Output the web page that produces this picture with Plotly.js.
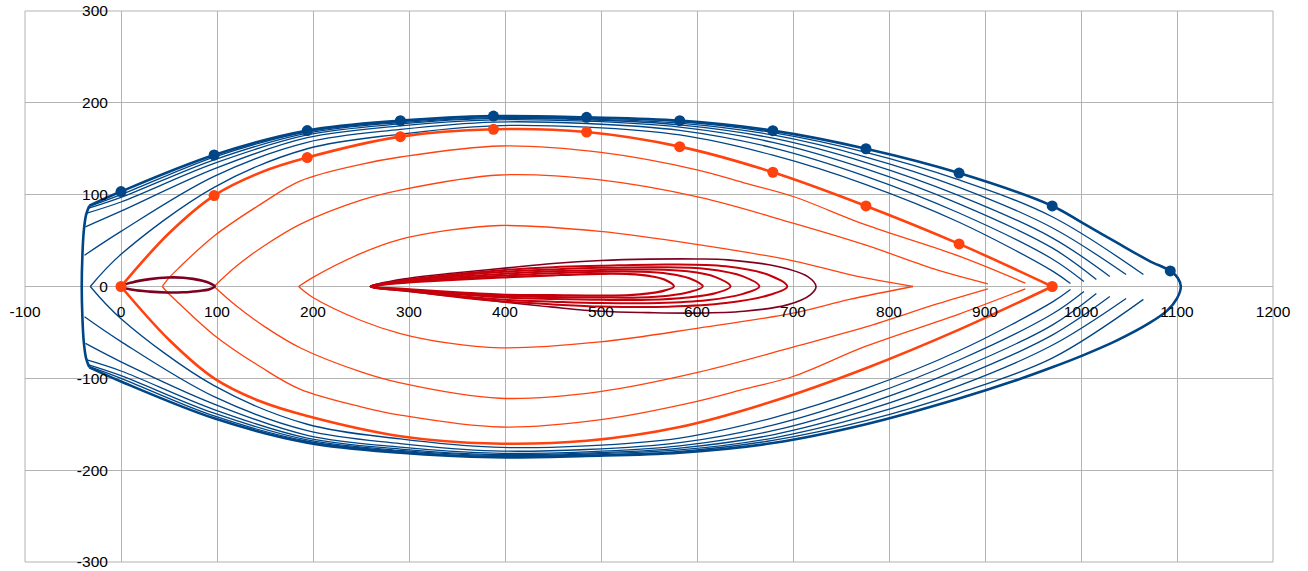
<!DOCTYPE html>
<html>
<head>
<meta charset="utf-8">
<script src="https://cdn.plot.ly/plotly-3.0.1.min.js"></script>
<style>html,body{margin:0;padding:0;background:#fff;}#chart{width:1308px;height:571px;}</style>
</head>
<body>
<div id="chart"></div>
<script>
// ---------- data ----------
// stations (x) used by the blue waterlines
const stations = [0, 97, 194, 291, 388, 485, 582, 679, 776, 873, 970];

// blue inner waterlines: start x (left), end x (right)
const blueStartX = [-32, -38, -37, -35.5, -34.5, -33.5];
const blueEndX   = [989, 1003, 1016, 1030, 1047, 1065];
// y values: [start, stations..., end]
const b1Up = [0, 35, 108, 150, 166, 175, 173.5, 165, 143, 111, 70, 17, 3.3];
const b1Lo = [0, -35, -108, -150, -166, -175, -173.5, -165, -143, -111, -70, -17, -3.3];
const b2Up = [34, 60, 120, 157, 171, 179, 177.5, 170, 151, 120, 80, 30, 5.4];
const b2Lo = [-33, -60, -120, -157, -171, -179, -177.5, -170, -151, -120, -80, -30, -5.4];
const b3Up = [65, 82, 128, 162, 175, 181.5, 180, 173.5, 157, 128, 90, 42, 7.6];
const b3Lo = [-62, -82, -128, -162, -175, -181.5, -180, -173.5, -157, -128, -90, -42, -7.6];
const b4Up = [80, 92, 134, 165, 177, 183, 181.5, 176, 161.5, 135, 99, 53, 11];
const b4Lo = [-80, -92, -134, -165, -177, -183, -181.5, -176, -161.5, -135, -99, -53, -11];
const b5Up = [85, 97, 138, 167, 178.5, 184, 182.5, 178, 165, 141, 108, 64, 13];
const b5Lo = [-85, -97, -138, -167, -178.5, -184, -182.5, -178, -165, -141, -108, -64, -13];
const b6Up = [87, 100, 141, 168.5, 179.5, 185, 183.5, 179.5, 167.5, 146, 116, 76, 13];
const b6Lo = [-87, -100, -141, -168.5, -179.5, -185, -183.5, -179.5, -167.5, -146, -116, -78, -14];

// outer hull contour (blue, thick)
const hullUpX = [-33, 0, 97, 194, 291, 388, 485, 582, 679, 776, 873, 970, 1002, 1037, 1071, 1093, 1101, 1104];
const hullUp  = [88, 103.4, 143.2, 169.8, 180.6, 185.6, 184.2, 180.6, 169.7, 150, 123.5, 87.7, 69, 48, 28, 17, 9, 0];
const hullLoX = [1104, 1100, 1090, 1071, 1037, 1002, 970, 930, 873, 776, 679, 582, 485, 388, 291, 194, 97, 0, -33];
const hullLo  = [0, -13, -26, -40, -59, -75, -88, -103, -122, -150, -170.5, -181, -184.5, -186, -181, -170, -143.5, -103.4, -88];
const sternX = [-33, -36.4, -38.8, -40.2, -40.9, -40.2, -38.8, -36.4, -33];
const sternY = [88, 78, 60, 34, 0, -34, -60, -78, -88];
const hullMarkX = [0, 97, 194, 291, 388, 485, 582, 679, 776, 873, 970, 1093];
const hullMarkY = [103.4, 143.2, 169.8, 180.6, 185.6, 184.2, 180.6, 169.7, 150, 123.5, 87.7, 17];

// orange thick line (markers only on the upper half)
const o1MarkX = [0, 97, 194, 291, 388, 485, 582, 679, 776, 873, 970];
const o1MarkY = [0, 99, 140.4, 163.2, 171.2, 168.2, 152.3, 124.4, 87.7, 46.4, 0];
const o1X  = [0, 50, 97, 145, 194, 291, 388, 485, 582, 679, 776, 873, 970];
const o1Up = [0, 58, 99, 124, 140.4, 163.2, 171.2, 168.2, 152.3, 124.4, 87.7, 46.4, 0];
const o1Lo = [0, -58, -100, -125, -141, -163, -171, -168, -153, -125, -89, -47, 0];
// orange thin lines
const o2X  = [43, 48, 60, 97, 146, 187, 250, 291, 395, 500, 600, 652, 700, 776, 873, 942];
const o2Up = [0, 7, 20, 55, 90, 115, 133, 141, 153, 146, 127, 112, 98, 67, 33, 3.6];
const o2Lo = [0, -6, -18, -53, -88, -112, -131, -140, -153, -145, -125, -111, -98, -65, -30, -2.5];
const o3X  = [97, 120, 150, 187, 250, 291, 395, 499, 603, 700, 776, 850, 903];
const o3Up = [0, 22, 45, 68, 94, 105, 121.4, 116, 97, 69, 45, 18, 2.9];
const o3Lo = [0, -21, -44, -67, -93, -105, -121.7, -114.4, -93, -66, -44, -19, -2.5];
const o4X  = [185, 200, 250, 290, 340, 395, 499, 603, 700, 759, 825];
const o4Up = [0, 10, 36, 51, 61, 66.4, 60, 45.3, 28, 13, 0];
const o4Lo = [0, -12, -37, -51, -61.5, -66.8, -60.3, -45, -29, -14, 0];

// small dark foil near the origin
const foilX = [0, 12.5, 30, 49, 65, 75, 85, 92.4, 97.6, 92.4, 85, 75, 65, 47.3, 30, 12.5, 0];
const foilY = [0, 4.7, 8, 9.8, 9.6, 8.3, 6.2, 3.6, 0, -2.9, -4.4, -5.5, -6.3, -6.5, -5.6, -3.6, 0];

// nested red teardrops
const m1X = [260, 300, 350, 400, 450, 500, 530, 550, 566, 576, 566, 550, 530, 500, 450, 400, 350, 300, 260];
const m1Y = [0, 4.4, 7.5, 10, 12.2, 13.8, 13.5, 11.5, 7.5, 0, -4.5, -7.5, -9.5, -10, -9.5, -9, -6.5, -3, 0];
const m2X = [260, 300, 350, 400, 450, 500, 540, 570, 592, 606, 592, 570, 540, 500, 450, 400, 350, 300, 260];
const m2Y = [0, 5.3, 9, 12, 14.5, 16, 16, 14, 9, 0, -6, -10, -12, -12, -11.5, -10.5, -7.5, -3.5, 0];
const m3X = [260, 300, 350, 400, 450, 500, 550, 590, 620, 635, 620, 590, 550, 500, 450, 400, 350, 300, 260];
const m3Y = [0, 6, 10.5, 14, 16.5, 18, 18.5, 16.5, 10, 0, -7, -12, -14.5, -14.5, -13.5, -12, -8.5, -4, 0];
const m4X = [260, 300, 350, 400, 450, 500, 560, 610, 648, 665, 648, 610, 560, 500, 450, 400, 350, 300, 260];
const m4Y = [0, 6.8, 12, 16, 18.5, 20.3, 21, 19, 11, 0, -8, -15, -18, -18, -16.5, -14.5, -10, -4.5, 0];
const m5X = [260, 300, 350, 400, 450, 500, 570, 630, 676, 694, 676, 630, 570, 500, 450, 400, 350, 300, 260];
const m5Y = [0, 7.5, 13.5, 18, 21, 22.5, 24, 22, 12, 0, -9, -18, -22, -21.8, -19.5, -16.5, -11.5, -5, 0];
const m6X = [260, 300, 350, 400, 450, 500, 550, 600, 632, 684, 715, 724, 718, 694, 649, 597, 550, 500, 450, 400, 350, 300, 260];
const m6Y = [0, 9, 15, 20, 25, 28.3, 29.8, 30, 29, 21.8, 11, 0, -9, -20, -27, -29, -28.5, -27, -22.5, -17, -11, -5.4, 0];

// axis ticks
const xTicks = [-100, 0, 100, 200, 300, 400, 500, 600, 700, 800, 900, 1000, 1100, 1200];
const yTicks = [-300, -200, -100, 0, 100, 200, 300];

// ---------- styles ----------
const BLUE = '#004586', ORANGE = '#ff420e', MAROON = '#7e0021', RED = '#c5000b';

function line(x, y, color, width) {
  return {x: x, y: y, type: 'scatter', mode: 'lines', hoverinfo: 'skip',
          line: {color: color, width: width, shape: 'spline', smoothing: 1}};
}
function dots(x, y, color) {
  return {x: x, y: y, type: 'scatter', mode: 'markers', hoverinfo: 'skip',
          marker: {color: color, size: 11, line: {width: 0}}};
}

const traces = [];
const bUps = [b1Up, b2Up, b3Up, b4Up, b5Up, b6Up];
const bLos = [b1Lo, b2Lo, b3Lo, b4Lo, b5Lo, b6Lo];
for (let i = 0; i < 6; i++) {
  const xs = [blueStartX[i]].concat(stations, [blueEndX[i]]);
  traces.push(line(xs, bUps[i], BLUE, 1.3));
  traces.push(line(xs, bLos[i], BLUE, 1.3));
}
// outer hull: upper, round the nose, then lower
traces.push(line(hullUpX.concat(hullLoX.slice(1)), hullUp.concat(hullLo.slice(1)), BLUE, 2.6));
traces.push(line(sternX, sternY, BLUE, 2.6));
traces.push(dots(hullMarkX, hullMarkY, BLUE));

// orange
traces.push(line(o2X, o2Up, ORANGE, 1.3));
traces.push(line(o2X, o2Lo, ORANGE, 1.3));
traces.push(line(o3X, o3Up, ORANGE, 1.3));
traces.push(line(o3X, o3Lo, ORANGE, 1.3));
traces.push(line(o4X, o4Up, ORANGE, 1.3));
traces.push(line(o4X, o4Lo, ORANGE, 1.3));
traces.push(line(foilX, foilY, MAROON, 2.6));
traces.push(line(o1X, o1Lo, ORANGE, 2.6));
traces.push(line(o1X, o1Up, ORANGE, 2.6));
traces.push(dots(o1MarkX, o1MarkY, ORANGE));

// red teardrops
traces.push(line(m6X, m6Y, MAROON, 1.6));
traces.push(line(m5X, m5Y, RED, 2));
traces.push(line(m4X, m4Y, RED, 2));
traces.push(line(m3X, m3Y, RED, 2));
traces.push(line(m2X, m2Y, RED, 2));
traces.push(line(m1X, m1Y, RED, 2.2));

const tickFont = {family: 'Liberation Sans, Arial, sans-serif', size: 15.5, color: '#000'};
const layout = {
  width: 1308, height: 571,
  margin: {l: 25, r: 35, t: 11, b: 9, pad: 0},
  paper_bgcolor: '#ffffff', plot_bgcolor: '#ffffff',
  showlegend: false,
  xaxis: {range: [-100, 1200], tickmode: 'array', tickvals: xTicks, ticktext: xTicks.map(String),
          showgrid: true, gridcolor: '#b3b3b3', gridwidth: 1, zeroline: false, showline: false,
          anchor: 'free', position: 0.5, ticks: 'outside', ticklen: 11, tickcolor: 'rgba(0,0,0,0)',
          tickfont: tickFont, ticklabeloverflow: 'allow', fixedrange: true},
  yaxis: {range: [-300, 300], tickmode: 'array', tickvals: yTicks, ticktext: yTicks.map(String),
          showgrid: true, gridcolor: '#b3b3b3', gridwidth: 1, zeroline: false, showline: false,
          anchor: 'free', position: 100 / 1300, ticks: 'outside', ticklen: 10, tickcolor: 'rgba(0,0,0,0)',
          tickfont: tickFont, ticklabeloverflow: 'allow', fixedrange: true},
  shapes: [{type: 'rect', xref: 'paper', yref: 'paper', x0: 0, x1: 1, y0: 0, y1: 1,
            line: {color: '#b3b3b3', width: 1}, layer: 'below'}]
};
Plotly.newPlot('chart', traces, layout, {staticPlot: true, displayModeBar: false});
</script>
</body>
</html>
